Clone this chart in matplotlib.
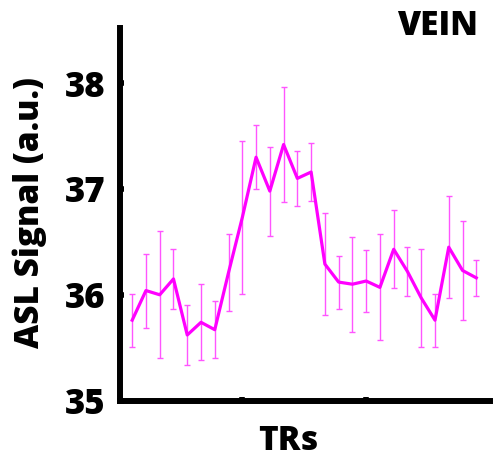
import matplotlib
matplotlib.use('Agg')
import matplotlib.pyplot as plt

# ASL signal per TR (vein ROI), mean and error
trs = list(range(1, 27))
signal = [35.76, 36.04, 36.00, 36.15, 35.62, 35.74, 35.67, 36.21, 36.73, 37.30,
          36.98, 37.42, 37.10, 37.16, 36.29, 36.12, 36.10, 36.13, 36.07, 36.43,
          36.22, 35.97, 35.76, 36.45, 36.23, 36.16]
err = [0.25, 0.35, 0.60, 0.28, 0.28, 0.36, 0.27, 0.36, 0.72, 0.30,
       0.42, 0.54, 0.26, 0.27, 0.48, 0.25, 0.45, 0.29, 0.50, 0.37,
       0.23, 0.46, 0.25, 0.48, 0.47, 0.17]
yticks = [35, 36, 37, 38]
xticks = [9, 18]

plt.rcParams['font.family'] = ['Open Sans', 'DejaVu Sans']
plt.rcParams['font.weight'] = 'heavy'

fig = plt.figure(figsize=(4.93, 4.61), dpi=100)
ax = fig.add_axes([0.243, 0.131, 0.751, 0.808])

ax.errorbar(trs, signal, yerr=err, fmt='none', ecolor='#ff55ff',
            elinewidth=1.0, capsize=2, capthick=1.0)
ax.plot(trs, signal, color='#ff00ff', lw=2.3)

ax.set_xlim(0.1, 27)
ax.set_ylim(35, 38.52)
ax.set_yticks(yticks)
ax.set_yticklabels([str(t) for t in yticks], fontsize=25, fontweight='heavy')
ax.set_xticks(xticks)
ax.set_xticklabels([])
ax.tick_params(direction='in', length=3, width=4, pad=10)

for s in ['top', 'right']:
    ax.spines[s].set_visible(False)
for s in ['left', 'bottom']:
    ax.spines[s].set_linewidth(4.3)

ax.set_ylabel('ASL Signal (a.u.)', fontsize=24, fontweight='heavy', va='center')
ax.yaxis.set_label_coords(-0.243, 0.505)
ax.set_xlabel('TRs', fontsize=24, fontweight='heavy', va='center')
ax.xaxis.set_label_coords(0.455, -0.108)
ax.text(0.968, 0.981, 'VEIN', transform=ax.transAxes, ha='right', va='baseline',
        fontsize=24, fontweight='heavy')

fig.savefig('out.png', dpi=100)
